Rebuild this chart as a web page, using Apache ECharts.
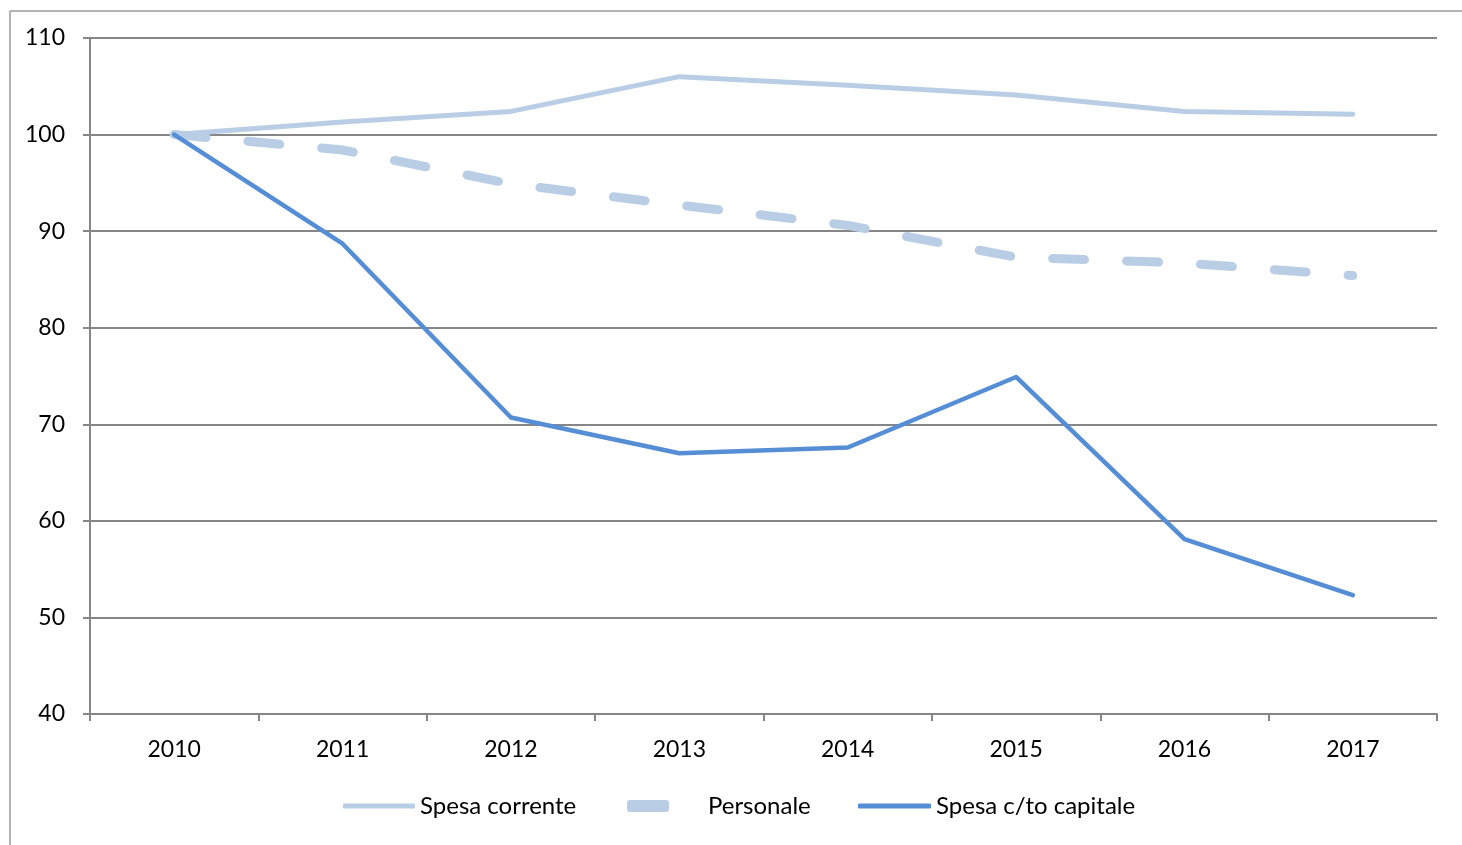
<!DOCTYPE html>
<html>
<head>
<meta charset="utf-8">
<script src="https://cdn.jsdelivr.net/npm/echarts@6/dist/echarts.min.js"></script>
<style>
html,body{margin:0;padding:0;background:#fff;}
#chart{width:1462px;height:845px;}
</style>
</head>
<body>
<div id="chart"></div>
<script>
const years = ['2010','2011','2012','2013','2014','2015','2016','2017'];
const spesaCorrente = [100, 101.3, 102.4, 106.0, 105.1, 104.1, 102.4, 102.1];
const personale = [100, 98.4, 94.9, 92.7, 90.6, 87.3, 86.7, 85.4];
const spesaCapitale = [100, 88.7, 70.7, 67.0, 67.6, 74.9, 58.1, 52.3];
const seriesNames = ['Spesa corrente', 'Personale', 'Spesa c/to capitale'];

const LIGHT = '#B9CDE5';
const DARK = '#558ED5';
const GRID = '#868686';
const FONT = 'Lato';

const chart = echarts.init(document.getElementById('chart'), null, {renderer: 'canvas'});
const legendText = {fontFamily: FONT, fontSize: 24, color: '#000'};
chart.setOption({
  animation: false,
  backgroundColor: '#fff',
  textStyle: {fontFamily: FONT},
  graphic: [
    {type: 'line', shape: {x1: 10, y1: 11, x2: 1462, y2: 11}, style: {stroke: '#9a9a9a', lineWidth: 1.5}, silent: true},
    {type: 'line', shape: {x1: 10, y1: 11, x2: 10, y2: 845}, style: {stroke: '#9a9a9a', lineWidth: 1.5}, silent: true}
  ],
  grid: {left: 90, right: 25, top: 38, bottom: 131, containLabel: false},
  legend: [
    {data: [{name: seriesNames[0], icon: 'roundRect'}], left: 338, top: 789, itemWidth: 72, itemHeight: 5,
     textStyle: legendText},
    {data: [{name: seriesNames[1], icon: 'roundRect'}], left: 622, top: 789, itemWidth: 42, itemHeight: 12,
     textStyle: Object.assign({}, legendText, {padding: [0, 0, 0, 34]})},
    {data: [{name: seriesNames[2], icon: 'roundRect'}], left: 853, top: 789, itemWidth: 73, itemHeight: 5,
     textStyle: legendText}
  ],
  xAxis: {
    type: 'category',
    data: years,
    boundaryGap: true,
    axisLine: {lineStyle: {color: GRID, width: 2}},
    axisTick: {show: true, inside: false, length: 7, alignWithLabel: false, lineStyle: {color: GRID, width: 2}},
    axisLabel: {fontFamily: FONT, fontSize: 23, color: '#000', margin: 24}
  },
  yAxis: {
    type: 'value',
    min: 40, max: 110, interval: 10,
    axisLine: {show: true, lineStyle: {color: GRID, width: 2}},
    axisTick: {show: true, inside: false, length: 7, lineStyle: {color: GRID, width: 2}},
    axisLabel: {fontFamily: FONT, fontSize: 23, color: '#000', margin: 25},
    splitLine: {show: true, lineStyle: {color: GRID, width: 2}}
  },
  series: [
    {name: seriesNames[0], type: 'line', data: spesaCorrente, symbol: 'none', z: 3,
     lineStyle: {color: LIGHT, width: 5, cap: 'round', join: 'round'}, itemStyle: {color: LIGHT}},
    {name: seriesNames[1], type: 'line', data: personale, symbol: 'none', z: 2,
     lineStyle: {color: LIGHT, width: 9, type: [32, 42], cap: 'round', join: 'round'}, itemStyle: {color: LIGHT}},
    {name: seriesNames[2], type: 'line', data: spesaCapitale, symbol: 'none', z: 4,
     lineStyle: {color: DARK, width: 4.5, cap: 'round', join: 'round'}, itemStyle: {color: DARK}}
  ]
});
</script>
</body>
</html>
